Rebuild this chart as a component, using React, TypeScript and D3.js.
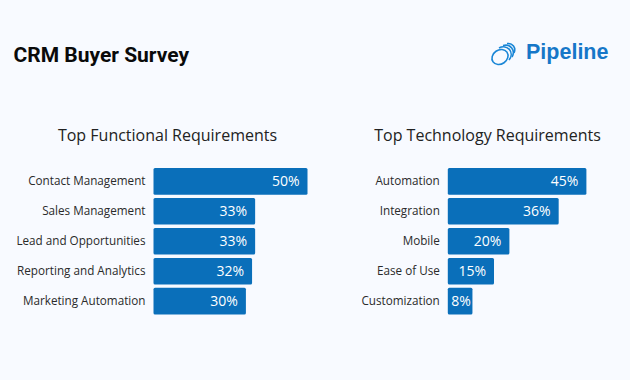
import React from "react";
import * as d3 from "d3";

const W = 630;
const H = 380;

const functionalCategories = [
  "Contact Management",
  "Sales Management",
  "Lead and Opportunities",
  "Reporting and Analytics",
  "Marketing Automation",
];
const functionalValues = [50, 33, 33, 32, 30];

const technologyCategories = [
  "Automation",
  "Integration",
  "Mobile",
  "Ease of Use",
  "Customization",
];
const technologyValues = [45, 36, 20, 15, 8];

const BAR = "#0a6fba";
const FONT = "'Open Sans', 'Noto Sans', sans-serif";

function BarPanel({
  title,
  categories,
  values,
  x0,
  titleX,
}: {
  title: string;
  categories: string[];
  values: number[];
  x0: number;
  titleX: number;
}) {
  const x = d3.scaleLinear().domain([0, 50]).range([0, 154]);
  const y = d3
    .scaleBand<string>()
    .domain(categories)
    .range([168, 314.5])
    .paddingInner(0.11)
    .paddingOuter(0);
  return (
    <g>
      <text
        x={titleX}
        y={140.5}
        textAnchor="middle"
        fontFamily={FONT}
        fontSize={16}
        fill="#222"
      >
        {title}
      </text>
      {categories.map((c, i) => {
        const w = x(values[i]);
        const yy = y(c)!;
        const bh = y.bandwidth();
        const tx = Math.max(w - 8, 23);
        return (
          <g key={c}>
            <text
              x={x0 - 8}
              y={yy + bh / 2}
              dy="0.35em"
              textAnchor="end"
              fontFamily={FONT}
              fontSize={11.7}
              fill="#2a2a2a"
            >
              {c}
            </text>
            <rect x={x0} y={yy} width={w} height={bh} rx={1.5} fill={BAR} />
            <text
              x={x0 + tx}
              y={yy + bh / 2}
              dy="0.36em"
              textAnchor="end"
              fontFamily={FONT}
              fontSize={14}
              fill="#fff"
            >
              {values[i] + "%"}
            </text>
          </g>
        );
      })}
    </g>
  );
}

export default function App() {
  return (
    <svg
      width={W}
      height={H}
      style={{ position: "absolute", left: 0, top: 0, display: "block" }}
    >
      <rect width={W} height={H} fill="#f8faff" />
      <text
        x={13.5}
        y={61.5}
        fontFamily="Roboto, 'Liberation Sans', sans-serif"
        fontWeight={700}
        fontSize={21}
        fill="#0a0a0a"
      >
        CRM Buyer Survey
      </text>
      {/* logo */}
      <g fill="none" stroke="#1a86d6" strokeWidth={1.6}>
        <ellipse cx={500} cy={57} rx={8.5} ry={7} transform="rotate(-35 500 57)" />
        <path d="M 499 48 A 9 8 -35 0 1 509 60" />
        <path d="M 503 45.5 A 9 8 -35 0 1 512 57" />
        <path d="M 507 43.5 A 8 7 -35 0 1 514 53" />
      </g>
      <text
        x={526}
        y={58.5}
        fontFamily="'Liberation Sans', Arial, sans-serif"
        fontWeight={700}
        fontSize={21.5}
        fill="#1677c8"
      >
        Pipeline
      </text>
      <BarPanel
        title="Top Functional Requirements"
        categories={functionalCategories}
        values={functionalValues}
        x0={153.5}
        titleX={167.5}
      />
      <BarPanel
        title="Top Technology Requirements"
        categories={technologyCategories}
        values={technologyValues}
        x0={447.8}
        titleX={487.5}
      />
    </svg>
  );
}
